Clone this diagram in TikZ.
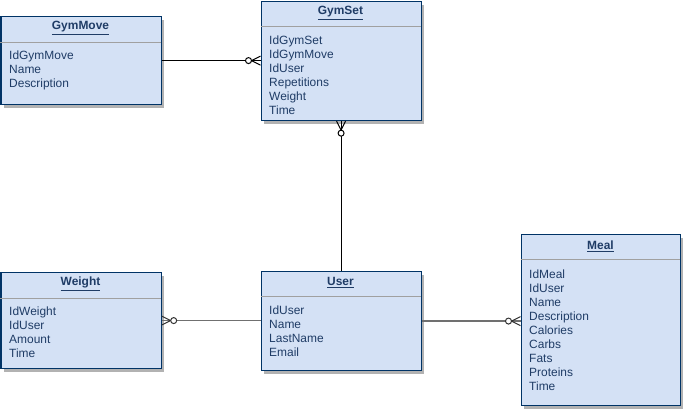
\documentclass[tikz,border=0pt]{standalone}
\usepackage{fontspec}
\setmainfont{Liberation Sans}
\usetikzlibrary{shadows}
\definecolor{boxfill}{HTML}{D4E1F5}
\definecolor{boxline}{HTML}{003366}
\definecolor{txtblue}{HTML}{1F3C66}
\definecolor{divgray}{HTML}{A0A0A0}
\definecolor{relgray}{HTML}{707070}
\newcommand\pxu{0.3mm}
\tikzset{
  entity/.style={draw=boxline, fill=boxfill, line width=1pt, anchor=north west,
    inner sep=0pt, drop shadow={shadow xshift=0.9mm, shadow yshift=-0.9mm, fill=black!30, opacity=1}},
  enttitle/.style={text=txtblue, font=\fontsize{10.2}{12}\selectfont\bfseries, inner sep=0pt},
  field/.style={text=txtblue, font=\fontsize{10.2}{12}\selectfont, anchor=base west, inner sep=0pt},
  divider/.style={draw=divgray, line width=0.8pt},
  rel/.style={line width=0.9pt},
  crowzero/.pic={
    \draw[line width=0.85pt] (0,-4.5) -- (-9,0) -- (0,4.5);
    \draw[line width=0.85pt, fill=white] (-12,0) circle (3);
  }
}
\begin{document}
\begin{tikzpicture}[x=0.3mm,y=-0.3mm]
  \useasboundingbox (0,0) rectangle (683,409);
  % GymMove
  \node[entity, minimum width=160*\pxu, minimum height=88*\pxu] (gm) at (0.5,16) {};
  \node[enttitle] (gm-t) at (80.5,28) {\underline{GymMove}};
  \draw[divider] (0.5,42) -- (160.5,42);
  \foreach \f [count=\i] in {IdGymMove,Name,Description}
    \node[field] (gm-\i) at (9,16+43+14*\i-14) {\f};
  % GymSet
  \node[entity, minimum width=160*\pxu, minimum height=119*\pxu] (gs) at (260.5,1) {};
  \node[enttitle] (gs-t) at (340.5,13) {\underline{GymSet}};
  \draw[divider] (260.5,26) -- (420.5,26);
  \foreach \f [count=\i] in {IdGymSet,IdGymMove,IdUser,Repetitions,Weight,Time}
    \node[field] (gs-\i) at (269,1+43+14*\i-14) {\f};
  % Weight
  \node[entity, minimum width=160*\pxu, minimum height=96*\pxu] (wt) at (0.5,272) {};
  \node[enttitle] (wt-t) at (80.5,284) {\underline{Weight}};
  \draw[divider] (0.5,298) -- (160.5,298);
  \foreach \f [count=\i] in {IdWeight,IdUser,Amount,Time}
    \node[field] (wt-\i) at (9,272+43+14*\i-14) {\f};
  % User
  \node[entity, minimum width=160*\pxu, minimum height=99*\pxu] (usr) at (260.5,271) {};
  \node[enttitle] (usr-t) at (340.5,283) {\underline{User}};
  \draw[divider] (260.5,296) -- (420.5,296);
  \foreach \f [count=\i] in {IdUser,Name,LastName,Email}
    \node[field] (usr-\i) at (269,271+43+14*\i-14) {\f};
  % Meal
  \node[entity, minimum width=159.5*\pxu, minimum height=171*\pxu] (ml) at (520.5,234) {};
  \node[enttitle] (ml-t) at (600.5,246) {\underline{Meal}};
  \draw[divider] (520.5,259) -- (680,259);
  \foreach \f [count=\i] in {IdMeal,IdUser,Name,Description,Calories,Carbs,Fats,Proteins,Time}
    \node[field] (ml-\i) at (529,234+44+14*\i-14) {\f};
  % relations
  \draw[rel] (gm.east) -- (gs.west |- gm.east);
  \pic[black] at (gs.west |- gm.east) {crowzero};
  \draw[rel] (gs.south) -- (usr.north);
  \pic[black, rotate=90] at (gs.south) {crowzero};
  \draw[rel, relgray, line width=1.5pt] (wt.east) -- (usr.west |- wt.east);
  \pic[black!80, rotate=180] at (wt.east) {crowzero};
  \draw[rel, relgray, line width=1.5pt] (usr.east) -- (ml.west |- usr.east);
  \pic[black!80] at (ml.west |- usr.east) {crowzero};
\end{tikzpicture}
\end{document}
